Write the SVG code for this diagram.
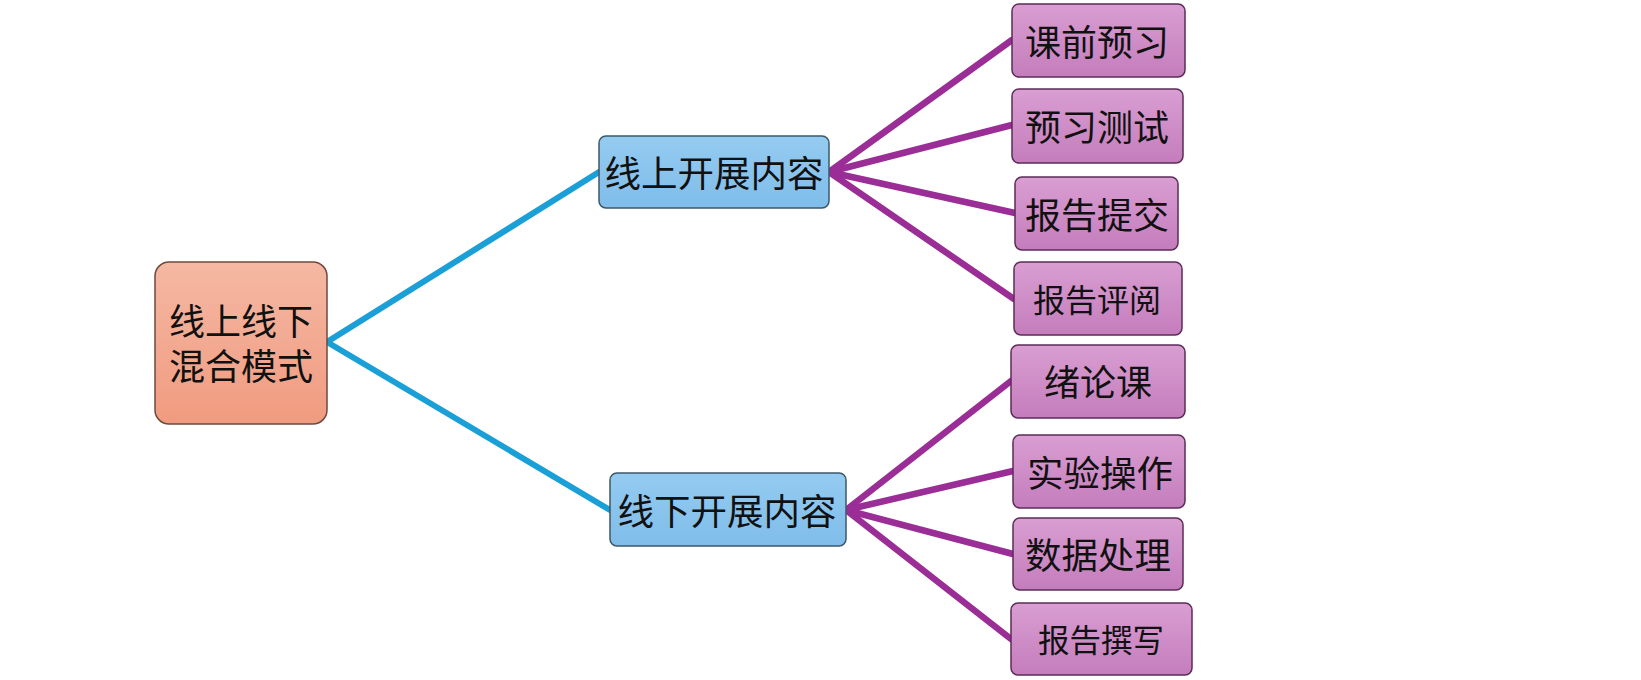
<svg xmlns="http://www.w3.org/2000/svg" width="1641" height="680" viewBox="0 0 1641 680">
<defs>
<linearGradient id="gRoot" x1="0" y1="0" x2="0" y2="1"><stop offset="0" stop-color="#f5b8a3"/><stop offset="1" stop-color="#f09b80"/></linearGradient>
<linearGradient id="gBlue" x1="0" y1="0" x2="0" y2="1"><stop offset="0" stop-color="#94cbf0"/><stop offset="1" stop-color="#80bdea"/></linearGradient>
<linearGradient id="gPink" x1="0" y1="0" x2="0" y2="1"><stop offset="0" stop-color="#d99ed2"/><stop offset="1" stop-color="#c47dbc"/></linearGradient>
</defs>
<style>
.t{font-family:"Noto Sans CJK SC","Noto Sans",sans-serif;fill:#111;text-anchor:middle;dominant-baseline:central}
.root{fill:url(#gRoot);stroke:#6e4a3e;stroke-width:1.5}
.blue{fill:url(#gBlue);stroke:#3c5868;stroke-width:1.5}
.pink{fill:url(#gPink);stroke:#5c2c57;stroke-width:1.5}
.cb{stroke:#1b9fd7;stroke-width:6;fill:none;stroke-linecap:round}
.cp{stroke:#9a2d96;stroke-width:6.5;fill:none;stroke-linecap:round}
</style>
<rect width="1641" height="680" fill="#ffffff"/>
<g id="connectors">
<polyline class="cb" points="599,172 327,342 610,510"/>
<line class="cp" x1="829" y1="172" x2="1012" y2="40"/>
<line class="cp" x1="829" y1="172" x2="1012" y2="125"/>
<line class="cp" x1="829" y1="172" x2="1015" y2="213"/>
<line class="cp" x1="829" y1="172" x2="1014" y2="299"/>
<line class="cp" x1="846" y1="510" x2="1011" y2="381"/>
<line class="cp" x1="846" y1="510" x2="1013" y2="471"/>
<line class="cp" x1="846" y1="510" x2="1013" y2="554"/>
<line class="cp" x1="846" y1="510" x2="1011" y2="639"/>
</g>
<g id="root">
<rect class="root" x="155" y="262" width="172" height="162" rx="14"/>
<text class="t" font-size="36"><tspan x="241" y="319">线上线下</tspan><tspan x="241" y="364">混合模式</tspan></text>
</g>
<g id="online">
<rect class="blue" x="599" y="136" width="230" height="72" rx="7"/>
<text class="t" x="714" y="171" font-size="36.5">线上开展内容</text>
</g>
<g id="offline">
<rect class="blue" x="610" y="473" width="236" height="73" rx="7"/>
<text class="t" x="727" y="509" font-size="36.5">线下开展内容</text>
</g>
<g id="n1"><rect class="pink" x="1012" y="4" width="173" height="73" rx="7"/><text class="t" x="1097" y="40" font-size="36">课前预习</text></g>
<g id="n2"><rect class="pink" x="1012" y="89" width="171" height="74" rx="7"/><text class="t" x="1097" y="125" font-size="36">预习测试</text></g>
<g id="n3"><rect class="pink" x="1015" y="177" width="163" height="73" rx="7"/><text class="t" x="1097" y="213" font-size="36">报告提交</text></g>
<g id="n4"><rect class="pink" x="1014" y="262" width="168" height="73" rx="7"/><text class="t" x="1097" y="298" font-size="32">报告评阅</text></g>
<g id="n5"><rect class="pink" x="1011" y="345" width="174" height="73" rx="7"/><text class="t" x="1098" y="380" font-size="36">绪论课</text></g>
<g id="n6"><rect class="pink" x="1013" y="435" width="172" height="73" rx="7"/><text class="t" x="1100" y="471" font-size="36.5">实验操作</text></g>
<g id="n7"><rect class="pink" x="1013" y="518" width="170" height="72" rx="7"/><text class="t" x="1098" y="553" font-size="36.5">数据处理</text></g>
<g id="n8"><rect class="pink" x="1011" y="603" width="181" height="72" rx="7"/><text class="t" x="1101" y="638" font-size="31.5">报告撰写</text></g>
</svg>
